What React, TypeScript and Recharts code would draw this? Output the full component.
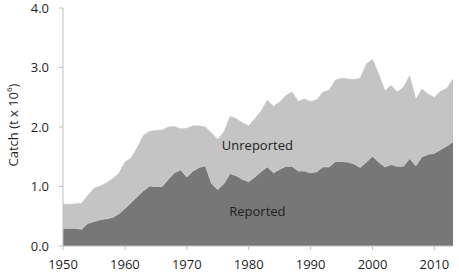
import { AreaChart, Area, XAxis, YAxis, ReferenceDot } from "recharts";

// Annual catch, millions of tonnes.
const years = [
  1950, 1951, 1952, 1953, 1954, 1955, 1956, 1957, 1958, 1959,
  1960, 1961, 1962, 1963, 1964, 1965, 1966, 1967, 1968, 1969,
  1970, 1971, 1972, 1973, 1974, 1975, 1976, 1977, 1978, 1979,
  1980, 1981, 1982, 1983, 1984, 1985, 1986, 1987, 1988, 1989,
  1990, 1991, 1992, 1993, 1994, 1995, 1996, 1997, 1998, 1999,
  2000, 2001, 2002, 2003, 2004, 2005, 2006, 2007, 2008, 2009,
  2010, 2011, 2012, 2013,
];

const reported = [
  0.30, 0.30, 0.30, 0.28, 0.38, 0.41, 0.44, 0.46, 0.48, 0.54,
  0.63, 0.73, 0.83, 0.93, 1.01, 1.00, 1.00, 1.12, 1.23, 1.28,
  1.16, 1.26, 1.32, 1.35, 1.05, 0.95, 1.05, 1.22, 1.18, 1.12,
  1.08, 1.16, 1.25, 1.33, 1.23, 1.29, 1.34, 1.34, 1.26, 1.26,
  1.23, 1.25, 1.33, 1.33, 1.42, 1.42, 1.41, 1.38, 1.32, 1.41,
  1.51, 1.41, 1.33, 1.37, 1.34, 1.34, 1.47, 1.35, 1.50, 1.54,
  1.56, 1.62, 1.68, 1.75,
];

const unreported = [
  0.40, 0.40, 0.41, 0.44, 0.47, 0.56, 0.57, 0.60, 0.65, 0.68,
  0.78, 0.75, 0.83, 0.93, 0.92, 0.94, 0.95, 0.88, 0.78, 0.69,
  0.82, 0.76, 0.70, 0.65, 0.85, 0.84, 0.87, 0.96, 0.96, 0.95,
  0.94, 0.98, 1.02, 1.12, 1.12, 1.13, 1.19, 1.25, 1.17, 1.21,
  1.20, 1.21, 1.26, 1.29, 1.37, 1.40, 1.40, 1.42, 1.50, 1.65,
  1.63, 1.48, 1.28, 1.33, 1.25, 1.33, 1.39, 1.12, 1.14, 1.01,
  0.94, 0.98, 0.97, 1.06,
];

const xTicks = [1950, 1960, 1970, 1980, 1990, 2000, 2010];
const yTicks = [0, 1, 2, 3, 4];

const data = years.map((year, i) => ({
  year,
  reported: reported[i],
  unreported: unreported[i],
}));

const FONT = "'Open Sans', sans-serif";
const AXIS = "#bfbfbf";
const TEXT = "#1f1f1f";

function CatchLabel() {
  return (
    <text
      x={13}
      y={125}
      transform="rotate(-90 13 125)"
      textAnchor="middle"
      dominantBaseline="central"
      fontFamily={FONT}
      fontSize={13}
      fill={TEXT}
    >
      Catch (t x 10<tspan fontSize={8} dy={-5}>6</tspan>
      <tspan dy={5}>)</tspan>
    </text>
  );
}

export default function App() {
  return (
    <div style={{ position: "absolute", left: 0, top: 0 }}>
      <AreaChart
        width={459}
        height={274}
        data={data}
        margin={{ top: 8, right: 6, bottom: 0, left: 0 }}
      >
        <XAxis
          dataKey="year"
          type="number"
          domain={[1950, 2013]}
          ticks={xTicks}
          height={28}
          tickSize={4}
          tickMargin={10}
          stroke={AXIS}
          tick={{ fill: TEXT, fontSize: 13, fontFamily: FONT }}
        />
        <YAxis
          domain={[0, 4]}
          ticks={yTicks}
          width={63}
          tickSize={4}
          tickMargin={10}
          stroke={AXIS}
          tickFormatter={(v: number) => v.toFixed(1)}
          tick={{ fill: TEXT, fontSize: 13, fontFamily: FONT }}
          label={<CatchLabel />}
        />
        <Area
          type="linear"
          dataKey="reported"
          stackId="c"
          fill="#777777"
          fillOpacity={1}
          stroke="#d0d0d0"
          strokeWidth={0.8}
          isAnimationActive={false}
        />
        <Area
          type="linear"
          dataKey="unreported"
          stackId="c"
          fill="#c4c4c4"
          fillOpacity={1}
          stroke="#c4c4c4"
          strokeWidth={0.5}
          isAnimationActive={false}
        />
        <ReferenceDot
          x={1981.4}
          y={1.69}
          r={0}
          fill="none"
          stroke="none"
          label={{ value: "Unreported", position: "center", fill: TEXT, fontSize: 13, fontFamily: FONT }}
        />
        <ReferenceDot
          x={1981.4}
          y={0.59}
          r={0}
          fill="none"
          stroke="none"
          label={{ value: "Reported", position: "center", fill: TEXT, fontSize: 13, fontFamily: FONT }}
        />
      </AreaChart>
    </div>
  );
}
